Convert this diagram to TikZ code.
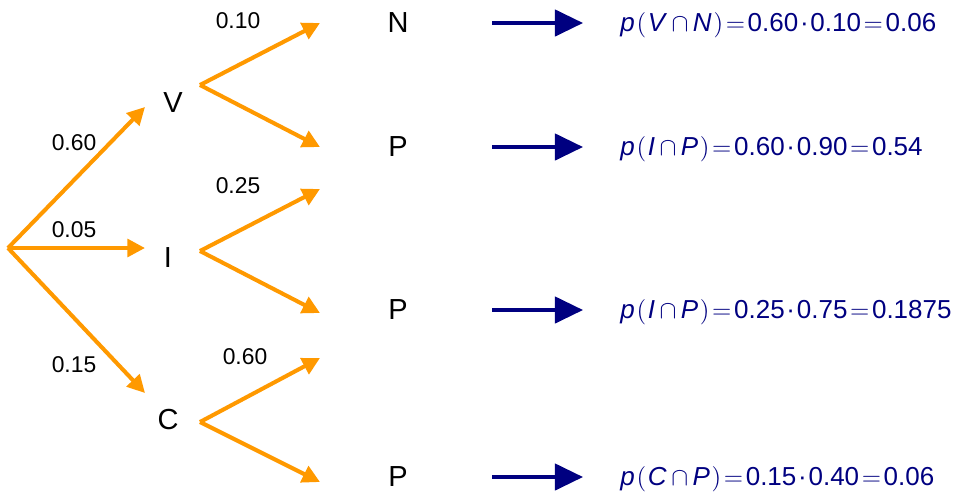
\documentclass[tikz,border=0pt]{standalone}
\usepackage{fontspec}
\setmainfont{Liberation Sans}
\usetikzlibrary{arrows.meta}
\definecolor{treeorange}{RGB}{255,153,0}
\definecolor{resblue}{RGB}{0,0,128}
\newcommand{\capsym}{\hspace{2.5pt}$\cap$\hspace{2.5pt}}
\newcommand{\eqsym}{\hspace{1.5pt}$=$\hspace{1.5pt}}
\newcommand{\dotsym}{\hspace{1pt}·\hspace{1pt}}
\newcommand{\lp}{\hspace{1pt}$($\hspace{1pt}}
\newcommand{\rp}{\hspace{1pt}$)$}

\begin{document}
\begin{tikzpicture}[x=0.02cm,y=-0.02cm,
    edge/.style={line width=2.3pt,treeorange,-{Triangle[length=10pt,width=10pt]}},
    resarrow/.style={line width=2pt,resblue,-{Triangle[length=16pt,width=15pt]}},
    letter/.style={font=\fontsize{16.5}{18}\selectfont,inner sep=0pt},
    prob/.style={font=\fontsize{13}{15}\selectfont,inner sep=1pt,fill=white},
    formula/.style={font=\fontsize{14.8}{16}\selectfont,resblue,anchor=west,inner sep=0pt}]
  \useasboundingbox (0,0) rectangle (964,498);
  \coordinate (Root) at (8,248);
  % first level
  \node[letter] (V) at (173,103) {V};
  \node[letter] (I) at (168,258) {I};
  \node[letter] (C) at (168,420) {C};
  \coordinate (Vtip) at (145,107);
  \coordinate (Itip) at (145,248);
  \coordinate (Ctip) at (145,393);
  \draw[edge] (Root) -- (Vtip);
  \draw[edge] (Root) -- (Itip);
  \draw[edge] (Root) -- (Ctip);
  \node[prob] (pV) at (74,143) {0.60};
  \node[prob] (pI) at (74,230) {0.05};
  \node[prob] (pC) at (74,365) {0.15};
  % second level
  \coordinate (Vout) at (200,85);
  \coordinate (Iout) at (200,251);
  \coordinate (Cout) at (200,422);
  \coordinate (VNtip) at (320,23);
  \coordinate (VPtip) at (320,147);
  \coordinate (IPtipa) at (320,189);
  \coordinate (IPtipb) at (320,313);
  \coordinate (CPtipa) at (320,358);
  \coordinate (CPtipb) at (320,482);
  \draw[edge] (Vout) -- (VNtip);
  \draw[edge] (Vout) -- (VPtip);
  \draw[edge] (Iout) -- (IPtipa);
  \draw[edge] (Iout) -- (IPtipb);
  \draw[edge] (Cout) -- (CPtipa);
  \draw[edge] (Cout) -- (CPtipb);
  \node[prob] (pVN) at (238,21) {0.10};
  \node[prob] (pIP) at (238,186) {0.25};
  \node[prob] (pCP) at (245,357) {0.60};
  % outcomes and results
  \foreach \name/\y/\lab/\res in {
      one/23/N/{\textit{p}\lp\textit{V}\capsym\textit{N}\rp\eqsym 0.60\dotsym 0.10\eqsym 0.06},
      two/147/P/{\textit{p}\lp\textit{I}\capsym\textit{P}\rp\eqsym 0.60\dotsym 0.90\eqsym 0.54},
      three/310/P/{\textit{p}\lp\textit{I}\capsym\textit{P}\rp\eqsym 0.25\dotsym 0.75\eqsym 0.1875},
      four/477/P/{\textit{p}\lp\textit{C}\capsym\textit{P}\rp\eqsym 0.15\dotsym 0.40\eqsym 0.06}}{
    \node[letter] (out\name) at (398,\y) {\lab};
    \coordinate (from\name) at (492,\y);
    \coordinate (to\name) at (583,\y);
    \draw[resarrow] (from\name) -- (to\name);
    \node[formula] (res\name) at (620,\y+2) {\res};
  }
\end{tikzpicture}
\end{document}
